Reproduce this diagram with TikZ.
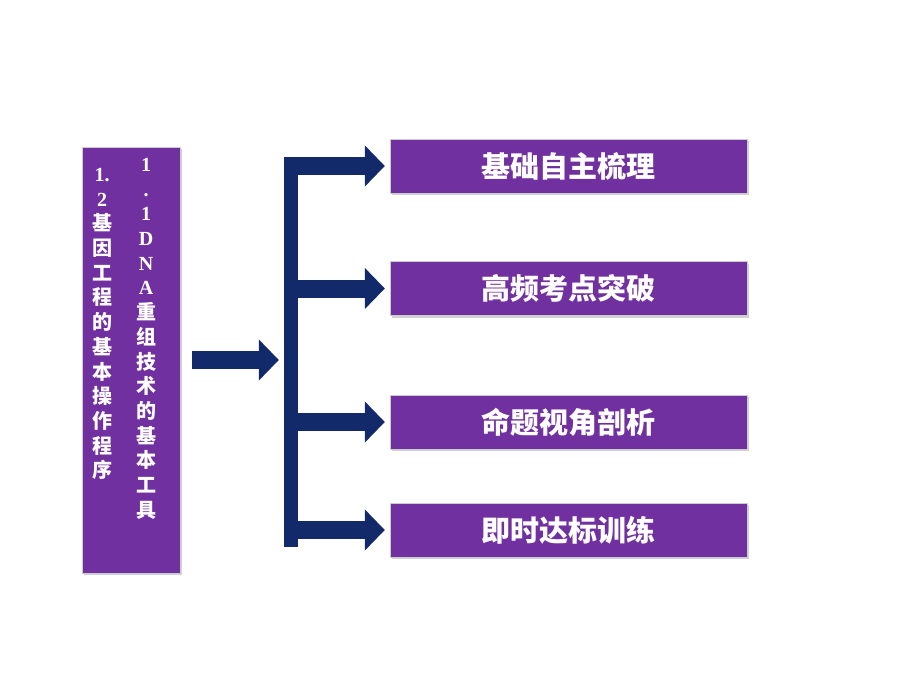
\documentclass[tikz,border=0pt]{standalone}
\usepackage{fontspec}
\setmainfont{Liberation Serif}
\newfontfamily\cjk{Noto Sans CJK SC}
\newcommand\lat{\rmfamily\bfseries}
\usetikzlibrary{
  arrows.meta,
  positioning,
  shadows
}
\definecolor{topicpurple}{RGB}{113,48,160}
\definecolor{barnavy}{RGB}{18,42,106}
\tikzset{
  topic/.style={
    draw=black!20,
    fill=topicpurple,
    drop shadow={shadow xshift=1.5pt,shadow yshift=-2pt,fill=black!35},
    minimum width=357pt,
    minimum height=54pt,
    inner sep=0pt,
    text=white,
    font=\cjk\bfseries\fontsize{29}{29}\selectfont
  },
  lessonbox/.style={
    draw=black!20,
    fill=topicpurple,
    drop shadow={shadow xshift=1.5pt,shadow yshift=-2pt,fill=black!35},
    minimum width=98pt,
    minimum height=426pt,
    inner sep=0pt
  },
  column/.style={
    text=white,
    align=center,
    anchor=north,
    inner sep=0pt,
    font=\cjk\bfseries\fontsize{20}{24.7}\selectfont
  },
  branch/.style={
    line width=18pt,
    draw=barnavy,
    -{Triangle[length=20pt,width=40pt]},
    shorten >=5pt
  }
}

\begin{document}
\begin{tikzpicture}[x=1pt,y=-1pt]
  \fill[white] (0,0) rectangle (920,690);
  \useasboundingbox (0,0) rectangle (920,690);

  % lesson column on the left
  \node[lessonbox] (lesson) at (131,360) {};
  \node[column] (colA) at (102,168)
    {\lat 1.\\\lat 2\\基\\因\\工\\程\\的\\基\\本\\操\\作\\程\\序};
  \node[column] (colB) at (146,158)
    {\lat 1\\\lat .\\\lat 1\\\lat D\\\lat N\\\lat A\\%
     重\\组\\技\\术\\的\\基\\本\\工\\具};

  % bracket bar
  \node[fill=barnavy,minimum width=14pt,minimum height=390pt,inner sep=0pt]
    (bar) at (291,352) {};

  % topics
  \node[topic] (t1) at (568.5,166)   {基础自主梳理};
  \node[topic] (t2) at (568.5,288.5) {高频考点突破};
  \node[topic] (t3) at (568.5,422)   {命题视角剖析};
  \node[topic] (t4) at (568.5,530)   {即时达标训练};

  \draw[branch,shorten <=12pt] (lesson.east) -- (lesson.east -| bar.west);
  \foreach \t in {t1,t2,t3,t4}
    \draw[branch] (bar.east |- \t) -- (\t.west);
\end{tikzpicture}
\end{document}
